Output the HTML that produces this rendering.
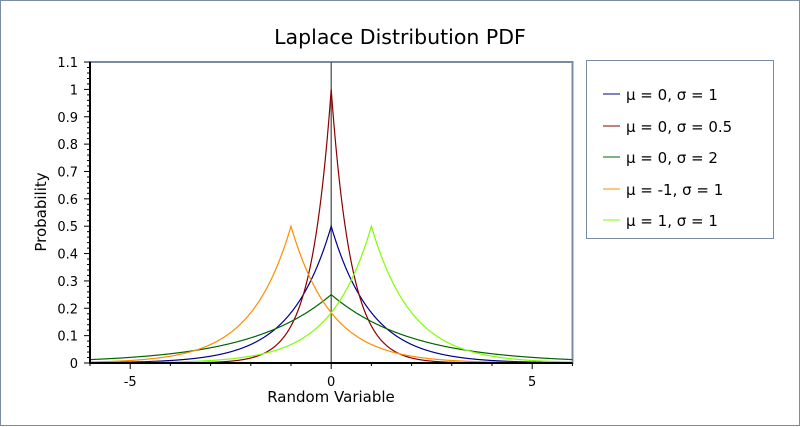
<!DOCTYPE html>
<html><head><meta charset="utf-8"><style>
html,body{margin:0;padding:0;background:#fff;}
svg{display:block;font-family:"DejaVu Sans","Liberation Sans",sans-serif;}
</style></head><body>
<svg id="s" width="800" height="427" viewBox="0 0 800 427">
<rect x="0.5" y="0.5" width="799" height="425" fill="#fff" stroke="#7a8ba3" stroke-width="1"/>
<text x="400" y="44" font-size="20.5" text-anchor="middle" fill="#000">Laplace Distribution PDF</text>
<rect x="90" y="62" width="482.5" height="301" fill="#fff" stroke="#7a8ba3" stroke-width="2"/>
<g id="g"></g>
<line x1="90" y1="62" x2="90" y2="363" stroke="#000" stroke-width="2"/>
<line x1="90" y1="363" x2="572.5" y2="363" stroke="#000" stroke-width="2"/>
<text x="331" y="402" font-size="15" text-anchor="middle">Random Variable</text>
<text transform="translate(46,212) rotate(-90)" font-size="15" text-anchor="middle">Probability</text>
<rect x="586.5" y="60.5" width="187" height="178" fill="#fff" stroke="#7a8ba3" stroke-width="1"/>
<g font-size="15">
<line x1="603" y1="94" x2="620" y2="94" stroke="#00008b"/><text x="626" y="100">μ = 0, σ = 1</text>
<line x1="603" y1="126" x2="620" y2="126" stroke="#8b0000"/><text x="626" y="132">μ = 0, σ = 0.5</text>
<line x1="603" y1="157" x2="620" y2="157" stroke="#006400"/><text x="626" y="163">μ = 0, σ = 2</text>
<line x1="603" y1="189" x2="620" y2="189" stroke="#ff8c00"/><text x="626" y="195">μ = -1, σ = 1</text>
<line x1="603" y1="220" x2="620" y2="220" stroke="#7fff00"/><text x="626" y="226">μ = 1, σ = 1</text>
</g>
</svg>
<script>
var g=document.getElementById('g'),h='';
function X(v){return 331.2+v*40.2;}function Y(v){return 363-v*273.6;}
for(var i=0;i<=55;i++){var y=Y(i*0.02),big=i%5==0;h+='<line x1="'+(big?84:87)+'" y1="'+y+'" x2="90" y2="'+y+'" stroke="#000"/>';
if(big){var t=(i/50);h+='<text x="78" y="'+(y+5)+'" font-size="13" text-anchor="end">'+(+t.toFixed(1))+'</text>';}}
for(var k=-6;k<=6;k++){var x=X(k);h+='<line x1="'+x+'" y1="363" x2="'+x+'" y2="'+(k%5==0?369:366)+'" stroke="#000"/>';
if(k%5==0)h+='<text x="'+x+'" y="386" font-size="13" text-anchor="middle">'+k+'</text>';}
h+='<line x1="'+X(0)+'" y1="62" x2="'+X(0)+'" y2="363" stroke="#555" stroke-width="1.3"/>';
var S=[[0,1,'#00008b'],[0,0.5,'#8b0000'],[0,2,'#006400'],[-1,1,'#ff8c00'],[1,1,'#7fff00']];
S.forEach(function(s){var d='';for(var j=0;j<=1200;j++){var v=-6+j*0.01;var p=Math.exp(-Math.abs(v-s[0])/s[1])/(2*s[1]);d+=(j?'L':'M')+X(v).toFixed(2)+' '+Y(p).toFixed(2);}
h+='<path d="'+d+'" fill="none" stroke="'+s[2]+'" stroke-width="1.2"/>';});
g.innerHTML=h;
</script>
</body></html>
